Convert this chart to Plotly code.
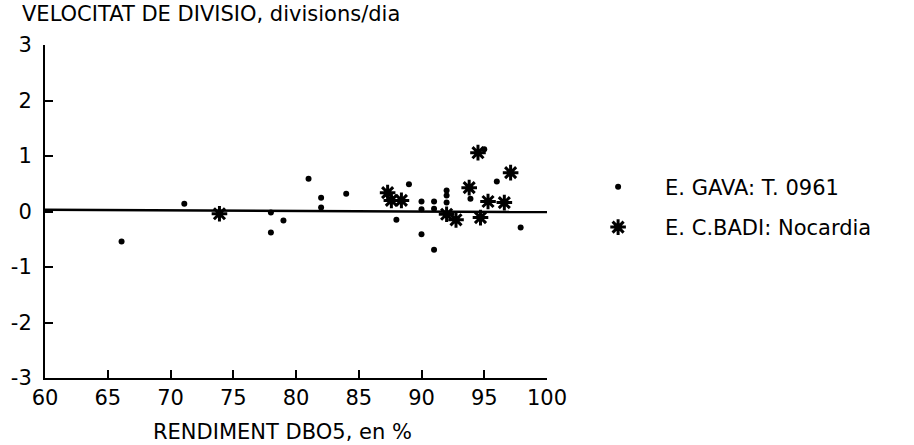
import plotly.graph_objects as go

# E. GAVA: T. 0961 (dots)
gava_x = [66.1, 71.1, 78.0, 78.0, 79.0, 81.0, 82.0, 82.0, 84.0, 88.0, 89.0, 90.0,
          90.0, 90.0, 91.0, 91.0, 91.0, 92.0, 92.0, 92.0, 93.9, 95.0, 96.0, 97.9]
gava_y = [-0.54, 0.14, -0.02, -0.38, -0.16, 0.59, 0.25, 0.07, 0.32, -0.15, 0.49, 0.18,
          0.04, -0.41, 0.18, 0.05, -0.69, 0.38, 0.29, 0.16, 0.23, 1.12, 0.54, -0.29]

# E. C.BADI: Nocardia (asterisks)
badi_x = [73.9, 87.3, 87.6, 88.4, 92.0, 92.75, 93.8, 94.5, 94.7, 95.3, 96.6, 97.1]
badi_y = [-0.04, 0.34, 0.20, 0.20, -0.05, -0.15, 0.43, 1.06, -0.11, 0.18, 0.16, 0.70]

# fitted line
fit_x = [60, 100]
fit_y = [0.03, -0.01]

x_ticks = [60, 65, 70, 75, 80, 85, 90, 95, 100]
y_ticks = [-3, -2, -1, 0, 1, 2, 3]
y_tick_text = ["-3", "-2", "-1", "0", "1", "2", "3"]

FONT = "DejaVu Sans, Liberation Sans, sans-serif"
FS = 21

fig = go.Figure()
fig.add_trace(go.Scatter(x=fit_x, y=fit_y, mode="lines",
                         line=dict(color="black", width=2.5),
                         showlegend=False, hoverinfo="skip"))
fig.add_trace(go.Scatter(x=gava_x, y=gava_y, mode="markers",
                         name="E. GAVA: T. 0961",
                         marker=dict(symbol="circle", size=6, color="black"),
                         legendgroup="a"))
fig.add_trace(go.Scatter(x=badi_x, y=badi_y, mode="markers",
                         name="E. C.BADI: Nocardia",
                         marker=dict(symbol="asterisk", size=13, color="black",
                                     line=dict(color="black", width=3)),
                         legendgroup="b"))

fig.update_layout(
    width=914, height=445,
    margin=dict(l=45, r=367, t=45, b=67),
    plot_bgcolor="white", paper_bgcolor="white",
    font=dict(family=FONT, size=FS, color="black"),
    legend=dict(x=1.048, y=0.513, xanchor="left", yanchor="middle",
                font=dict(size=FS), itemwidth=84, tracegroupgap=10,
                bgcolor="rgba(0,0,0,0)"),
    xaxis=dict(range=[60, 100], tickvals=x_ticks, ticks="inside", ticklen=8,
               tickwidth=2, tickcolor="black", showline=True, linecolor="black",
               linewidth=2, showgrid=False, zeroline=False,
               tickfont=dict(size=FS)),
    yaxis=dict(range=[-3, 3], tickvals=y_ticks, ticktext=y_tick_text,
               ticks="inside", ticklen=8, tickwidth=2, tickcolor="black",
               showline=True, linecolor="black", linewidth=2, showgrid=False,
               zeroline=False, tickfont=dict(size=FS), ticklabelstandoff=7),
    annotations=[
        dict(text="VELOCITAT DE DIVISIO, divisions/dia", xref="paper", yref="paper",
             x=-0.05, y=1.093, xanchor="left", yanchor="middle", showarrow=False,
             font=dict(size=FS)),
        dict(text="RENDIMENT DBO5, en %", xref="paper", yref="paper",
             x=0.474, y=-0.162, xanchor="center", yanchor="middle", showarrow=False,
             font=dict(size=FS)),
    ],
)

fig.write_html("out.html")
